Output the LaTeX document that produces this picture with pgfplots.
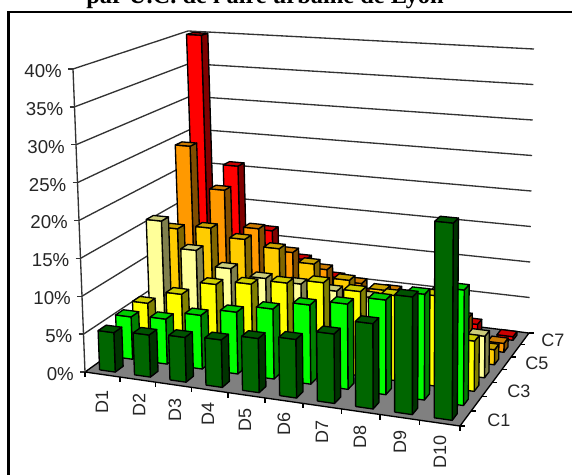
\documentclass[border=0pt]{standalone}
\usepackage{fontspec}
\setmainfont{Liberation Sans}
\newfontfamily\titlefont{Liberation Serif}
\usepackage{pgfplots}
\usepackage{pgfplotstable}
\pgfplotsset{compat=1.18}
% share of each C band (rows) per decile D (columns), in %
\pgfplotstableread{
C  D1   D2   D3   D4   D5   D6   D7   D8   D9   D10
C1 5.2  5.5  5.8  6.1  6.9  7.4  8.7  10.6 14.5 24.1
C2 5.7  6.0  7.1  8.1  9.1  10.2 10.9 12.0 13.3 14.4
C3 6.0  7.8  9.7  10.3 11.0 11.6 11.0 11.0 11.6 6.4
C4 16.0 12.4 10.4 9.6  9.4  9.0  8.7  8.0  10.5 5.4
C5 13.6 14.2 13.1 12.3 10.7 9.0  8.2  8.0  7.0  2.0
C6 24.4 18.4 13.3 10.4 8.5  7.1  6.6  5.0  4.0  1.2
C7 40.0 20.8 11.7 8.0  5.9  4.1  3.5  3.0  1.6  0.5
}\datatable
\definecolor{fa0}{HTML}{006600}\definecolor{si0}{HTML}{003300}\definecolor{to0}{HTML}{005200}
\definecolor{fa1}{HTML}{00FF00}\definecolor{si1}{HTML}{008000}\definecolor{to1}{HTML}{00CC00}
\definecolor{fa2}{HTML}{FFFF00}\definecolor{si2}{HTML}{808000}\definecolor{to2}{HTML}{CCCC00}
\definecolor{fa3}{HTML}{FFFF99}\definecolor{si3}{HTML}{80804D}\definecolor{to3}{HTML}{CCCC7A}
\definecolor{fa4}{HTML}{FFCC00}\definecolor{si4}{HTML}{806600}\definecolor{to4}{HTML}{CCA300}
\definecolor{fa5}{HTML}{FF9900}\definecolor{si5}{HTML}{804D00}\definecolor{to5}{HTML}{CC7A00}
\definecolor{fa6}{HTML}{FF0000}\definecolor{si6}{HTML}{800000}\definecolor{to6}{HTML}{CC0000}
% perspective: (u,v) on the floor in [0,1], w = value/40, result in picture pixels
\def\projto#1#2#3#4{%
  \pgfmathsetmacro\den{1-0.0757*(#1)+0.1453*(#2)}%
  \pgfmathsetmacro\fx{(340.2*(#1)+140.6*(#2)+85)/\den}%
  \pgfmathsetmacro\fy{(21.8*(#1)-37.6*(#2)+372)/\den}%
  \pgfmathsetmacro\wx{(1-(#1))*(1-(#2))*(-12)+(#1)*(1-(#2))*2+(#1)*(#2)*5+(1-(#1))*(#2)*(-9)}%
  \pgfmathsetmacro\wy{(1-(#1))*(1-(#2))*(-303)+(#1)*(1-(#2))*(-330)+(#1)*(#2)*(-284)+(1-(#1))*(#2)*(-261)}%
  \pgfmathsetmacro\rx{\fx+(#3)*\wx}%
  \pgfmathsetmacro\ry{475-\fy-(#3)*\wy}%
  \edef#4{(\rx,\ry)}%
}
\def\face#1#2#3#4#5{%
  \edef\tmp{\noexpand\addplot[fill=#1,draw=black,line width=1bp,line join=round,forget plot] coordinates {#2 #3 #4 #5 #2};}\tmp
}
\def\drawrow#1{%
  \pgfplotsforeachungrouped \ii in {1,2,...,10}{%
    \pgfplotstablegetelem{#1}{[index]\ii}\of\datatable
    \pgfmathsetmacro\hh{\pgfplotsretval/40}%
    \pgfmathsetmacro\ua{(\ii-0.72)/10}%
    \pgfmathsetmacro\ub{(\ii-0.27)/10}%
    \pgfmathsetmacro\va{(#1+0.27)/7}%
    \pgfmathsetmacro\vb{(#1+0.72)/7}%
    \projto{\ua}{\va}{0}\Pa \projto{\ub}{\va}{0}\Pb \projto{\ub}{\vb}{0}\Pc
    \projto{\ua}{\va}{\hh}\Qa \projto{\ub}{\va}{\hh}\Qb \projto{\ub}{\vb}{\hh}\Qc \projto{\ua}{\vb}{\hh}\Qd
    \face{si#1}{\Pb}{\Pc}{\Qc}{\Qb}%
    \face{fa#1}{\Pa}{\Pb}{\Qb}{\Qa}%
    \face{to#1}{\Qa}{\Qb}{\Qc}{\Qd}%
  }%
}
\begin{document}
\begin{tikzpicture}
\useasboundingbox (0,0) rectangle (429bp,356.25bp);
\begin{axis}[at={(0,0)},anchor=south west,scale only axis,width=429bp,height=356.25bp,
  xmin=0,xmax=572,ymin=0,ymax=475,hide axis]
% frame
\addplot[black,line width=2bp,forget plot] coordinates {(8.7,0) (8.7,463) (572,463)};
% title
\node[anchor=base,inner sep=0pt,font=\titlefont\bfseries\fontsize{18.3bp}{20bp}\selectfont] at (axis cs:265,471) {par U.C. de l'aire urbaine de Lyon};
% floor
\projto{0}{0}{0}\Pa \projto{1}{0}{0}\Pb \projto{1}{1}{0}\Pc \projto{0}{1}{0}\Pd
\edef\tmp{\noexpand\addplot[fill=black!50,draw=black,line width=1bp,forget plot] coordinates {\Pa \Pb \Pc \Pd \Pa};}\tmp
% walls
\pgfplotsforeachungrouped \k in {0.125,0.25,0.375,0.5,0.625,0.75,0.875,1}{%
  \projto{0}{0}{\k}\Pa \projto{0}{1}{\k}\Pb \projto{1}{1}{\k}\Pc
  \edef\tmp{\noexpand\addplot[black!80,line width=1bp,forget plot] coordinates {\Pa \Pb \Pc};}\tmp
}
% value axis
\projto{0}{0}{0}\Pa \projto{0}{0}{1}\Pb
\edef\tmp{\noexpand\addplot[black!80,line width=1bp,forget plot] coordinates {\Pa \Pb};}\tmp
\pgfplotsforeachungrouped \k in {0,1,2,3,4,5,6,7,8}{%
  \pgfmathsetmacro\tx{85-1.5*\k}%
  \pgfmathsetmacro\ty{475-372+37.875*\k}%
  \pgfmathsetmacro\txa{\tx-5}%
  \pgfmathsetmacro\tl{\tx-11}%
  \pgfmathsetmacro\tyl{\ty-2}%
  \pgfmathtruncatemacro\lab{5*\k}%
  \edef\tmp{\noexpand\addplot[black!80,line width=1bp,forget plot] coordinates {(\txa,\ty) (\tx,\ty)};
    \noexpand\node[anchor=east,inner sep=0pt,text=black!85,font=\noexpand\fontsize{14bp}{15bp}\noexpand\selectfont] at (axis cs:\tl,\tyl) {\lab\noexpand\%};}\tmp
}
% floor ticks
\pgfplotsforeachungrouped \k in {0,1,...,10}{%
  \pgfmathsetmacro\ua{\k/10}%
  \projto{\ua}{0}{0}\Pa
  \pgfmathsetmacro\ryy{\ry-5}%
  \edef\Pb{(\rx,\ryy)}%
  \edef\tmp{\noexpand\addplot[black,line width=1bp,forget plot] coordinates {\Pa \Pb};}\tmp
}
\pgfplotsforeachungrouped \k in {0,1,...,7}{%
  \pgfmathsetmacro\va{\k/7}%
  \projto{1}{\va}{0}\Pa
  \pgfmathsetmacro\rxx{\rx+5}%
  \edef\Pb{(\rxx,\ry)}%
  \edef\tmp{\noexpand\addplot[black,line width=1bp,forget plot] coordinates {\Pa \Pb};}\tmp
}
% bars: back to front, left to right
\drawrow{6}\drawrow{5}\drawrow{4}\drawrow{3}\drawrow{2}\drawrow{1}\drawrow{0}
% category labels
\foreach \x/\yt/\lab in {102/390/D1,139/393/D2,175/398/D3,208/402/D4,245/408/D5,284/412/D6,322/420/D7,360/425/D8,400/430/D9,440/435/D10}{%
  \pgfmathsetmacro\yy{475-\yt}%
  \edef\tmp{\noexpand\node[rotate=90,anchor=east,inner sep=0pt,text=black!85,font=\noexpand\fontsize{13.5bp}{15bp}\noexpand\selectfont] at (axis cs:\x,\yy) {\lab};}\tmp
}
\foreach \x/\yt/\lab in {487/420/C1,507/391/C3,525/363/C5,541/340/C7}{%
  \pgfmathsetmacro\yy{475-\yt}%
  \edef\tmp{\noexpand\node[anchor=west,inner sep=0pt,text=black!85,font=\noexpand\fontsize{13.5bp}{15bp}\noexpand\selectfont] at (axis cs:\x,\yy) {\lab};}\tmp
}
\end{axis}
\end{tikzpicture}
\end{document}
